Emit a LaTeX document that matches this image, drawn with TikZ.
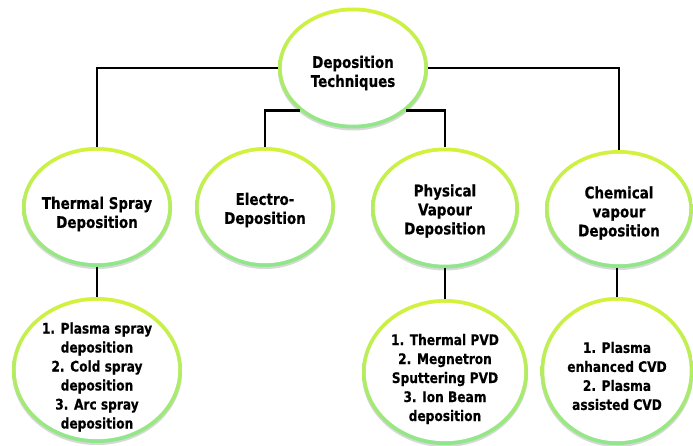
\documentclass[tikz,border=0pt]{standalone}
\usepackage{fontspec}
\setmainfont[FakeStretch=0.84, BoldFeatures={FakeBold=0.5}]{DejaVu Sans}
\usetikzlibrary{shapes.geometric,calc,shadows}
\definecolor{ringtop}{HTML}{D4F23A}
\definecolor{ringbot}{HTML}{8EE68E}
\tikzset{
  bub/.style={ellipse, inner sep=0pt, outer sep=0pt,
    top color=ringtop, bottom color=ringbot, middle color=ringtop!55!ringbot,
    drop shadow={shadow xshift=0pt, shadow yshift=-2pt, opacity=0.25, fill=black!60},
    path picture={\fill[white] let \p1=(path picture bounding box.north east),
       \p2=(path picture bounding box.center) in
       (\p2) ellipse ({\x1-\x2-3.8pt} and {\y1-\y2-3.8pt});}},
  txt/.style={align=center, font=\bfseries\fontsize{16}{19}\selectfont, inner sep=0pt},
  txts/.style={align=center, font=\bfseries\fontsize{14.5}{19}\selectfont, inner sep=0pt},
  conn/.style={draw=black, line width=2.9pt}
}
\begin{document}
\begin{tikzpicture}[x=1pt,y=-1pt]
\useasboundingbox[fill=white] (0,0) rectangle (693,446);
% bubbles
\node[bub, minimum width=150pt, minimum height=121pt] (top) at (353,68) {};
\node[bub, minimum width=150pt, minimum height=120pt] (ts) at (97,207) {};
\node[bub, minimum width=140pt, minimum height=120pt] (el) at (265,207) {};
\node[bub, minimum width=148pt, minimum height=121pt] (pvd) at (445,208) {};
\node[bub, minimum width=148pt, minimum height=118pt] (chem) at (619,209) {};
\node[bub, minimum width=170pt, minimum height=146pt] (tsb) at (97,370) {};
\node[bub, minimum width=166pt, minimum height=146pt] (pvdb) at (445,372) {};
\node[bub, minimum width=153pt, minimum height=148pt] (chemb) at (617,371) {};
% connectors
\draw[conn] (top.west) -| (ts.north);
\draw[conn] (top.east) -| (chem.north);
\draw[conn] (top.south west) -| (el.north);
\draw[conn] (top.south east) -| (pvd.north);
\draw[conn] (ts.south) -- (tsb.north);
\draw[conn] (pvd.south) -- (pvdb.north);
\draw[conn] (chemb.north) -- (chemb.north |- chem.south);
% texts
\node[txt] (topt) at (353,73) {Deposition\\Techniques};
\node[txt] (tst) at (97,214) {Thermal Spray\\Deposition};
\node[txt] (elt) at (265,210) {Electro-\\Deposition};
\node[txt] (pvdt) at (445,211) {Physical\\Vapour\\Deposition};
\node[txt] (chemt) at (619,213) {Chemical\\vapour\\Deposition};
\node[txts] (tsbt) at (97,377) {1. Plasma spray\\deposition\\2. Cold spray\\deposition\\3. Arc spray\\deposition};
\node[txts] (pvdbt) at (445,379) {1. Thermal PVD\\2. Megnetron\\Sputtering PVD\\3. Ion Beam\\deposition};
\node[txts] (chembt) at (617,376) {1. Plasma\\enhanced CVD\\2. Plasma\\assisted CVD};
\end{tikzpicture}
\end{document}
